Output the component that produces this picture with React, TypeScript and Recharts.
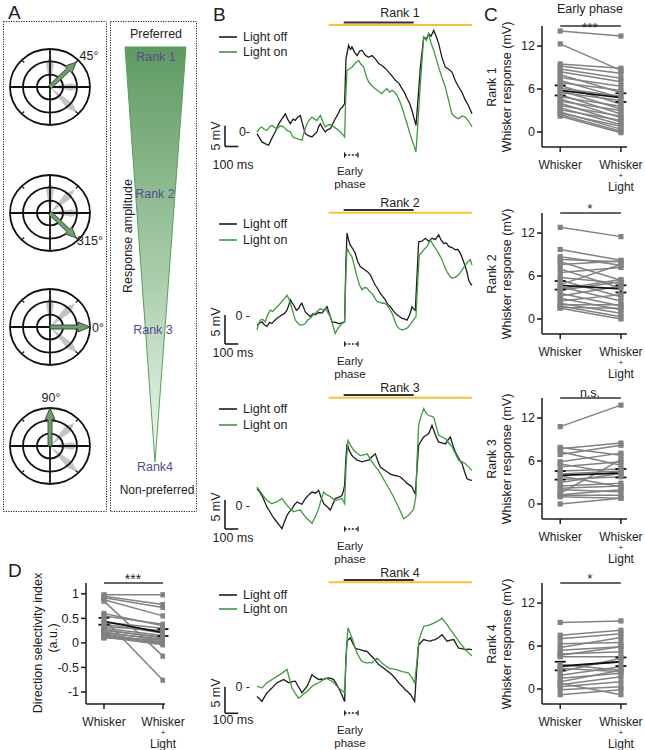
import React from 'react';
import { LineChart, Line, XAxis, YAxis, ReferenceLine, ErrorBar } from 'recharts';

const FONT = "'Liberation Sans', Arial, Helvetica, sans-serif";
const INK = '#1e1e1e';
const GREY = '#828282';
const OFF_COLOR = '#1c1c1c';
const ON_COLOR = '#3f9a3f';
const LIGHT_COLOR = '#f2c240';

// ---- panel B: example traces, [time ms, Vm mV]
const rank1Off: [number, number][] = [
  [0, -0.4], [20, -1.5], [37, -2.4], [60, -2.8], [87, -3.2], [110, -1.6], [137, 0], [160, 1.8], [187, 3.2], [212, 4.4],
  [232, 3.0], [250, 2.0], [270, 3.1], [287, 2.8], [305, 3.6], [325, 4.0], [345, 1.5], [362, -0.4], [385, -0.9], [412, -1.2],
  [430, -0.6], [450, 0], [462, 1.3], [475, 2.0], [495, 0.8], [512, 0], [530, 0.6], [550, 0.8], [570, 2.1], [587, 3.2],
  [605, 4.2], [625, 5.6], [640, 6.0], [657, 6.9], [667, 17.7], [687, 21.0], [700, 20.0], [712, 20.6], [730, 19.4], [750, 18.5],
  [770, 19.6], [787, 19.8], [812, 18.6], [837, 18.1], [862, 18.5], [887, 17.7], [912, 16.6], [937, 16.1], [962, 15.4], [987, 14.5],
  [1012, 13.6], [1037, 12.5], [1062, 11.9], [1087, 10.5], [1105, 9.6], [1125, 8.1], [1145, 6.9], [1162, 5.2], [1180, 3.0], [1192, 1.6],
  [1210, 9.0], [1225, 15.7], [1250, 23.0], [1270, 22.5], [1287, 23.8], [1305, 23.2], [1325, 24.6], [1345, 23.0], [1362, 21.4], [1387, 18.0],
  [1412, 15.7], [1437, 15.2], [1462, 14.5], [1487, 12.4], [1512, 10.9], [1537, 9.6], [1562, 7.7], [1587, 6.3], [1612, 4.4],
];
const rank1On: [number, number][] = [
  [0, 0], [20, 0.9], [37, 1.2], [55, 0.6], [75, 0.4], [95, 1.3], [112, 1.6], [130, 1.1], [150, 0.8], [175, 1.5],
  [200, 1.2], [225, 0.4], [250, 0], [270, -1.2], [290, -1.5], [315, -1.8], [337, -2.0], [355, 0.2], [375, 2.0], [392, 2.9],
  [412, 3.6], [430, 3.1], [450, 2.8], [475, 4.0], [495, 2.4], [512, 1.2], [537, 1.8], [562, 1.6], [587, 1.0], [612, 0.4],
  [635, -0.3], [657, -1.2], [665, 8.0], [675, 14.9], [695, 15.3], [712, 15.7], [737, 16.7], [762, 17.3], [780, 16.4], [800, 15.7],
  [818, 13.6], [837, 12.1], [862, 11.2], [887, 10.5], [912, 9.8], [937, 9.3], [955, 10.0], [975, 10.5], [995, 9.6], [1012, 10.1],
  [1030, 9.7], [1050, 8.9], [1068, 7.6], [1087, 6.0], [1105, 4.1], [1125, 2.0], [1145, -0.2], [1162, -2.0], [1180, -3.6], [1192, -4.8],
  [1210, 4.0], [1225, 11.7], [1240, 18.5], [1250, 23.0], [1270, 22.2], [1287, 23.8], [1305, 21.5], [1325, 19.8], [1345, 17.6], [1362, 15.7],
  [1387, 13.2], [1412, 10.9], [1437, 7.6], [1462, 4.4], [1487, 3.6], [1512, 3.2], [1537, 3.9], [1562, 3.6], [1587, 2.6], [1612, 1.2],
];
const rank2Off: [number, number][] = [
  [0, -1.6], [20, -1.2], [37, -1.0], [55, -1.5], [75, -1.8], [95, -1.1], [112, -1.3], [130, -0.8], [150, -0.4], [170, -0.1],
  [187, 0.2], [205, 0.4], [225, 1.0], [240, 2.0], [250, 2.8], [262, 2.3], [275, 1.9], [295, 1.0], [312, 1.3], [325, 1.9],
  [337, 2.2], [350, 1.4], [362, 0.7], [380, 0.3], [400, -0.1], [420, 0.4], [437, 0.2], [462, 0.6], [487, 0.5], [505, 1.0],
  [525, 1.6], [545, 0.2], [562, -1.0], [590, -1.1], [612, -1.3], [635, -1.2], [657, -1.0], [666, 9.0], [675, 14.3], [688, 13.0],
  [700, 12.2], [718, 11.6], [737, 10.8], [755, 9.4], [775, 8.5], [795, 8.2], [812, 7.9], [830, 7.6], [850, 7.1], [868, 6.2],
  [887, 5.3], [905, 4.7], [925, 3.9], [945, 3.3], [962, 2.8], [980, 2.0], [1000, 1.6], [1025, 0.8], [1050, 0.2], [1068, -0.1],
  [1087, -0.4], [1105, -0.5], [1125, -0.7], [1145, 0.2], [1162, 1.6], [1175, 1.2], [1187, 1.0], [1200, 7.0], [1212, 12.8], [1237, 12.9],
  [1262, 13.4], [1287, 12.9], [1312, 13.4], [1337, 13.2], [1362, 14.0], [1380, 13.1], [1400, 12.5], [1420, 12.6], [1437, 12.0], [1462, 11.8],
  [1487, 11.4], [1505, 11.5], [1525, 10.8], [1545, 9.6], [1562, 8.5], [1575, 7.5], [1587, 6.2], [1600, 5.6], [1612, 5.3],
];
const rank2On: [number, number][] = [
  [0, -2.4], [12, -1.3], [25, -0.7], [42, -0.6], [62, -1.0], [80, 0.2], [100, 1.0], [118, 0.8], [137, 1.3], [160, 1.8],
  [187, 2.5], [205, 3.0], [225, 3.6], [238, 3.0], [250, 2.2], [268, 0.8], [287, -0.7], [305, -1.2], [325, -1.6], [345, -1.5],
  [362, -1.3], [380, -0.7], [400, -0.4], [418, 0.1], [437, 0.5], [455, 0.9], [475, 1.3], [495, 1.0], [512, 1.3], [530, 0.6],
  [550, -0.1], [568, -1.5], [587, -3.0], [605, -2.2], [625, -1.6], [640, -1.3], [657, -1.0], [666, 7.0], [675, 11.7], [692, 10.9],
  [712, 10.2], [730, 8.6], [750, 6.8], [768, 5.4], [787, 4.5], [805, 4.9], [825, 4.8], [842, 4.3], [862, 3.9], [880, 3.2],
  [900, 2.5], [918, 2.4], [937, 2.2], [955, 2.2], [975, 1.9], [992, 1.3], [1012, 0.5], [1030, -0.6], [1050, -1.8], [1068, -2.2],
  [1087, -2.4], [1105, -2.3], [1125, -2.1], [1145, -1.6], [1162, -1.0], [1178, -0.5], [1192, -0.1], [1205, 6.0], [1217, 10.5], [1233, 10.9],
  [1250, 11.4], [1275, 12.0], [1300, 13.1], [1318, 12.4], [1337, 11.7], [1362, 10.8], [1387, 9.7], [1405, 8.6], [1425, 7.6], [1445, 6.9],
  [1462, 6.5], [1487, 6.7], [1512, 7.1], [1537, 7.9], [1562, 8.8], [1580, 9.3], [1600, 9.7], [1612, 8.8],
];
const rank3Off: [number, number][] = [
  [0, 3.0], [18, 2.5], [37, 1.8], [55, 0.9], [75, -0.2], [95, -0.9], [112, -1.6], [130, -2.2], [150, -2.8], [170, -3.4],
  [187, -3.9], [205, -2.8], [225, -1.6], [242, -1.0], [262, -0.5], [280, 0.2], [300, 0.7], [318, 0.5], [337, 0.3], [355, 1.0],
  [375, 1.6], [392, 2.0], [412, 2.4], [438, 2.2], [462, 2.7], [480, 1.5], [500, 0.4], [525, -0.1], [550, -0.7], [570, 0.4],
  [587, 1.3], [612, 1.5], [637, 1.8], [648, 2.6], [657, 3.6], [666, 8.0], [675, 10.7], [693, 9.5], [712, 8.7], [730, 8.3],
  [750, 7.9], [768, 7.8], [787, 7.6], [812, 7.8], [837, 7.9], [862, 8.5], [887, 9.0], [905, 7.8], [925, 6.7], [950, 6.3],
  [975, 5.9], [1000, 5.5], [1025, 5.3], [1050, 5.2], [1075, 5.0], [1100, 4.5], [1125, 3.9], [1145, 3.6], [1162, 3.3], [1175, 2.6],
  [1187, 2.1], [1200, 6.5], [1212, 10.5], [1230, 11.2], [1250, 11.9], [1270, 12.2], [1287, 12.5], [1300, 13.2], [1312, 13.9], [1337, 12.3],
  [1362, 11.0], [1387, 10.9], [1412, 10.7], [1430, 11.3], [1450, 11.9], [1468, 10.5], [1487, 9.3], [1512, 8.2], [1537, 7.3], [1555, 6.0],
  [1575, 4.7], [1595, 4.5], [1612, 4.4],
];
const rank3On: [number, number][] = [
  [0, 3.3], [18, 2.7], [37, 2.1], [55, 1.5], [75, 1.0], [95, 0.6], [112, 0.4], [130, 0.6], [150, 0.7], [168, 1.0],
  [187, 1.3], [212, 0.5], [237, -0.2], [255, -0.6], [275, -1.0], [300, -0.8], [325, -0.7], [350, -1.5], [375, -2.2], [395, -2.6],
  [412, -3.0], [438, -1.8], [462, -0.5], [480, 1.0], [500, 2.4], [518, 2.0], [537, 1.8], [562, 1.4], [587, 1.0], [612, 1.1],
  [637, 1.3], [657, 0.4], [668, 7.0], [682, 11.3], [703, 10.4], [725, 9.6], [750, 9.1], [775, 8.7], [800, 8.8], [825, 9.0],
  [845, 8.3], [862, 7.6], [887, 6.8], [912, 6.1], [937, 5.1], [962, 4.1], [987, 3.1], [1012, 2.1], [1037, 0.9], [1062, -0.2],
  [1080, -1.2], [1100, -2.2], [1118, -1.9], [1137, -1.6], [1155, -1.1], [1175, -0.5], [1192, 1.8], [1200, 8.0], [1212, 13.9], [1230, 15.5],
  [1250, 16.8], [1268, 16.0], [1287, 15.6], [1305, 15.5], [1325, 15.3], [1345, 13.6], [1362, 12.2], [1387, 11.9], [1412, 11.6], [1437, 10.9],
  [1462, 10.2], [1487, 9.0], [1512, 7.9], [1537, 7.6], [1562, 7.3], [1587, 6.7], [1612, 6.1],
];
const rank4Off: [number, number][] = [
  [0, -1.8], [18, -2.2], [37, -2.7], [55, -1.9], [75, -1.1], [95, -0.6], [112, -0.2], [130, 0.3], [150, 0.8], [175, 1.1],
  [200, 1.4], [218, 1.1], [237, 0.8], [262, 1.0], [287, 1.1], [312, 0.0], [337, -1.1], [355, -0.5], [375, 0.1], [395, 1.2],
  [412, 2.3], [438, 1.8], [462, 1.4], [480, 1.5], [500, 1.4], [518, 1.6], [537, 1.7], [555, 1.6], [575, 1.4], [595, 0.6],
  [612, -0.2], [635, -1.4], [657, -2.7], [666, 5.0], [675, 8.6], [687, 8.9], [700, 9.2], [718, 8.2], [737, 7.3], [755, 7.1],
  [775, 7.0], [800, 6.8], [825, 6.7], [850, 6.0], [875, 5.4], [893, 4.8], [912, 4.2], [937, 3.8], [962, 3.3], [987, 2.8],
  [1012, 2.3], [1037, 1.6], [1062, 0.8], [1087, 0.2], [1112, -0.5], [1130, -0.9], [1150, -1.4], [1165, -2.0], [1182, -2.7], [1198, 3.5],
  [1212, 7.9], [1230, 8.4], [1250, 8.9], [1275, 8.7], [1300, 8.6], [1318, 8.8], [1337, 8.9], [1362, 9.3], [1387, 9.8], [1405, 9.2],
  [1425, 8.6], [1450, 8.8], [1475, 8.9], [1495, 8.0], [1512, 7.3], [1537, 7.2], [1562, 7.0], [1587, 7.1], [1612, 7.0],
];
const rank4On: [number, number][] = [
  [0, 0.1], [18, 0.0], [37, -0.2], [55, 0.3], [75, 0.8], [95, 1.1], [112, 1.4], [130, 1.7], [150, 2.0], [188, 2.6],
  [225, 3.3], [243, 1.6], [262, -0.2], [287, -1.2], [312, -2.1], [337, -1.6], [362, -1.1], [387, -0.5], [412, 0.1], [437, 0.5],
  [462, 0.8], [487, 1.2], [512, 1.7], [537, 1.4], [562, 1.1], [587, 0.5], [612, -0.2], [635, -0.6], [657, -1.1], [670, 6.5],
  [682, 11.1], [697, 10.2], [712, 9.2], [730, 7.8], [750, 6.4], [768, 5.5], [787, 4.8], [805, 4.6], [825, 4.5], [845, 4.6],
  [862, 4.5], [880, 5.0], [900, 5.4], [918, 5.0], [937, 4.5], [962, 4.0], [987, 3.6], [1012, 3.4], [1037, 3.3], [1062, 3.1],
  [1087, 2.9], [1112, 2.8], [1137, 2.6], [1160, 1.8], [1182, 0.8], [1198, 4.5], [1212, 8.6], [1230, 10.0], [1250, 11.4], [1275, 11.5],
  [1300, 11.7], [1325, 12.0], [1350, 12.3], [1370, 12.6], [1387, 12.9], [1405, 12.3], [1425, 11.7], [1443, 11.0], [1462, 10.4], [1487, 9.5],
  [1512, 8.6], [1537, 7.8], [1562, 7.0], [1587, 6.4], [1612, 5.8],
];
// stimulus timing, ms
const lightOnWindow = [537, 1612];
const whiskerWindow = [650, 1175];
const earlyPhaseWindow = [657, 757];
const scaleBarMs = [-240, -140];
const scaleBarMv = 5;

// ---- panel C: early phase whisker response per cell (mV)
const rank1Whisker = [14.1, 12.3, 9.5, 9.2, 8.8, 8.4, 8.0, 7.6, 7.2, 6.9, 6.5, 6.1, 5.8, 5.5, 5.2, 4.9, 4.6, 4.3, 4.0, 3.7, 3.4, 3.1, 2.8, 2.6, 2.4, 2.2];
const rank1Light = [13.4, 8.6, 8.9, 8.2, 7.5, 7.0, 5.5, 6.4, 4.8, 5.8, 3.9, 5.0, 3.2, 4.4, 2.5, 3.6, 2.0, 3.0, 1.4, 2.2, 1.0, 1.6, 0.4, 0.8, 0.1, -0.1];
const rank1Mean = [5.8, 4.8];
const rank1Sem = [0.7, 0.6];
const rank2Whisker = [12.8, 9.7, 8.7, 8.3, 8.0, 7.6, 7.0, 6.5, 5.8, 5.4, 4.8, 4.5, 4.2, 4.0, 3.6, 3.2, 2.9, 2.5, 2.2, 2.0, 1.8, 1.6, 1.5];
const rank2Light = [11.5, 8.2, 7.5, 8.0, 5.4, 8.1, 4.3, 7.2, 5.0, 3.1, 7.6, 2.5, 5.5, 5.2, 1.8, 4.6, 1.3, 3.4, 0.8, 2.0, 0.3, 1.5, 0.0];
const rank2Mean = [4.7, 4.2];
const rank2Sem = [0.6, 0.5];
const rank3Whisker = [10.8, 7.9, 7.7, 7.3, 6.9, 5.9, 5.6, 5.2, 4.6, 4.2, 3.9, 3.4, 3.0, 2.5, 2.2, 2.0, 1.5, 1.3, 1.2, 1.0, 0.0];
const rank3Light = [13.8, 6.8, 8.5, 5.4, 8.2, 7.1, 4.2, 5.9, 4.9, 4.6, 2.4, 3.8, 4.3, 2.9, 2.5, 1.7, 6.2, 2.0, 1.2, 0.8, 0.8];
const rank3Mean = [4.0, 4.3];
const rank3Sem = [0.6, 0.6];
const rank4Whisker = [9.3, 7.5, 7.0, 6.3, 5.8, 5.4, 4.9, 4.7, 4.5, 3.4, 3.1, 2.9, 2.4, 1.9, 1.5, 1.0, 0.8, 0.6, 0.3, -0.1, -0.8];
const rank4Light = [9.5, 8.2, 7.7, 6.5, 7.2, 5.9, 5.2, 5.9, 4.5, 2.6, 3.8, 2.4, 4.3, 3.1, 2.2, 2.6, -0.8, 1.7, 1.0, 0.3, -0.1];
const rank4Mean = [3.2, 3.8];
const rank4Sem = [0.6, 0.6];
const responseTicks = [0, 6, 12];

// ---- panel D: direction selectivity index
const dsiWhisker = [0.98, 0.95, 0.92, 0.88, 0.85, 0.6, 0.55, 0.48, 0.42, 0.38, 0.33, 0.3, 0.27, 0.25, 0.22, 0.2, 0.18, 0.16, 0.14, 0.12, 0.1];
const dsiLight = [0.98, 0.78, 0.72, 0.55, -0.27, 0.35, 0.38, -0.76, 0.3, 0.2, 0.25, 0.15, 0.1, 0.12, 0.05, 0.08, 0.0, 0.02, -0.02, -0.04, 0.06];
const dsiMean = [0.44, 0.21];
const dsiSem = [0.07, 0.07];
const dsiTicks = [-1, -0.5, 0, 0.5, 1];

// ---- layout of B panels (pixels)
const B_LEFT = 205;
const B_W = 270;
const B_H = 185;
const T0_PX = 257;
const PX_PER_MS = 215 / 1612;
const T_MIN = (B_LEFT - T0_PX) / PX_PER_MS;
const T_MAX = (B_LEFT + B_W - T0_PX) / PX_PER_MS;

type BPanel = {
  title: string; off: [number, number][]; on: [number, number][];
  top: number; zeroPx: number; ppm: number; lightPx: number; stimPx: number; scalePx: number; bracketPx: number;
  titleY: number; legY: number[]; mvY: number; msY: number; earlyY: number; zeroLabel: string;
};

const bPanels: BPanel[] = [
  { title: 'Rank 1', off: rank1Off, on: rank1On, top: 0, zeroPx: 132, ppm: 4.13, lightPx: 25, stimPx: 22.5, scalePx: 146.5, bracketPx: 155, titleY: 13, legY: [37, 52], mvY: 136, msY: 165, earlyY: 173, zeroLabel: '0-' },
  { title: 'Rank 2', off: rank2Off, on: rank2On, top: 190, zeroPx: 316, ppm: 5.8, lightPx: 212.7, stimPx: 210, scalePx: 344, bracketPx: 344, titleY: 203, legY: [224, 240], mvY: 322, msY: 353, earlyY: 363, zeroLabel: '0 -' },
  { title: 'Rank 3', off: rank3Off, on: rank3On, top: 375, zeroPx: 506, ppm: 5.8, lightPx: 397.7, stimPx: 395, scalePx: 529, bracketPx: 529, titleY: 388, legY: [409, 425], mvY: 507, msY: 538, earlyY: 548, zeroLabel: '0 -' },
  { title: 'Rank 4', off: rank4Off, on: rank4On, top: 565, zeroPx: 687, ppm: 5.33, lightPx: 582.3, stimPx: 580, scalePx: 713.3, bracketPx: 713, titleY: 573, legY: [595, 609], mvY: 693, msY: 720, earlyY: 732, zeroLabel: '0 -' },
];

const TracePanel = ({ p }: { p: BPanel }) => {
  const yMax = (p.zeroPx - p.top) / p.ppm;
  const yMin = -(p.top + B_H - p.zeroPx) / p.ppm;
  const mv = (px: number) => (p.zeroPx - px) / p.ppm;
  const half = 2.6 / p.ppm;
  const scaleY = mv(p.scalePx);
  const brY = mv(p.bracketPx);
  return (
    <div style={{ position: 'absolute', left: B_LEFT, top: p.top }}>
      <LineChart width={B_W} height={B_H} margin={{ top: 0, right: 0, bottom: 0, left: 0 }}>
        <XAxis type="number" dataKey="t" domain={[T_MIN, T_MAX]} hide allowDataOverflow />
        <YAxis type="number" domain={[yMin, yMax]} hide allowDataOverflow />
        <ReferenceLine segment={[{ x: lightOnWindow[0], y: mv(p.lightPx) }, { x: lightOnWindow[1], y: mv(p.lightPx) }]} stroke={LIGHT_COLOR} strokeWidth={2} ifOverflow="visible" />
        <ReferenceLine segment={[{ x: whiskerWindow[0], y: mv(p.stimPx) }, { x: whiskerWindow[1], y: mv(p.stimPx) }]} stroke="#333" strokeWidth={2} ifOverflow="visible" />
        <ReferenceLine segment={[{ x: scaleBarMs[0], y: scaleY }, { x: scaleBarMs[0], y: scaleY + scaleBarMv }]} stroke={INK} strokeWidth={1.6} ifOverflow="visible" />
        <ReferenceLine segment={[{ x: scaleBarMs[0], y: scaleY }, { x: scaleBarMs[1], y: scaleY }]} stroke={INK} strokeWidth={1.6} ifOverflow="visible" />
        <ReferenceLine segment={[{ x: earlyPhaseWindow[0], y: brY }, { x: earlyPhaseWindow[1], y: brY }]} stroke={INK} strokeWidth={1.3} strokeDasharray="2 1.6" ifOverflow="visible" />
        <ReferenceLine segment={[{ x: earlyPhaseWindow[0], y: brY - half }, { x: earlyPhaseWindow[0], y: brY + half }]} stroke={INK} strokeWidth={1.3} ifOverflow="visible" />
        <ReferenceLine segment={[{ x: earlyPhaseWindow[1], y: brY - half }, { x: earlyPhaseWindow[1], y: brY + half }]} stroke={INK} strokeWidth={1.3} ifOverflow="visible" />
        <Line data={p.off.map(([t, v]) => ({ t, v }))} dataKey="v" stroke={OFF_COLOR} strokeWidth={1.3} dot={false} isAnimationActive={false} />
        <Line data={p.on.map(([t, v]) => ({ t, v }))} dataKey="v" stroke={ON_COLOR} strokeWidth={1.3} dot={false} isAnimationActive={false} />
      </LineChart>
    </div>
  );
};

// custom two-level tick for paired plots
const PairTick = (props: any) => {
  const { x, y, payload } = props;
  const lines = payload.value === 0 ? ['Whisker'] : ['Whisker', '+', 'Light'];
  const dy = [14.5, 24.4, 37.1];
  return (
    <g transform={`translate(${x},${y})`}>
      {lines.map((s, i) => (
        <text key={i} x={0} y={dy[i]} textAnchor="middle" fontSize={i === 1 ? 8 : 12} fill={INK} fontFamily={FONT}>{s}</text>
      ))}
    </g>
  );
};

const squareDot = (props: any) => {
  const { cx, cy, index, dataKey } = props;
  if (cx == null || cy == null) return <g key={`${dataKey}-${index}`} />;
  return <rect key={`${dataKey}-${index}`} x={cx - 2.6} y={cy - 2.6} width={5.2} height={5.2} fill={GREY} />;
};

type PairProps = {
  left: number; top: number; axisW: number; width: number; w: number[]; l: number[]; mean: number[]; sem: number[];
  yDomain: number[]; xDomain: number[]; ticks: number[]; plotW: number;
};

const PairPanel = ({ left, top, axisW, width, w, l, mean, sem, yDomain, xDomain, ticks, plotW }: PairProps) => {
  const rows = [0, 1].map((x) => {
    const r: any = { x, m: mean[x], e: sem[x] };
    w.forEach((v, i) => { r[`p${i}`] = x === 0 ? v : l[i]; });
    return r;
  });
  return (
    <div style={{ position: 'absolute', left, top: top - 10 }}>
      <LineChart width={width} height={192} data={rows} margin={{ top: 10, right: width - axisW - plotW, bottom: 0, left: 0 }}>
        <XAxis type="number" dataKey="x" domain={xDomain} ticks={[0, 1]} height={61} tick={<PairTick />} tickSize={5}
          axisLine={{ stroke: INK, strokeWidth: 1.5 }} tickLine={{ stroke: INK, strokeWidth: 1.5 }} allowDataOverflow />
        <YAxis type="number" domain={yDomain} ticks={ticks} width={axisW} tickSize={5} allowDataOverflow
          tick={{ fontSize: 12.5, fill: INK, fontFamily: FONT }} axisLine={{ stroke: INK, strokeWidth: 1.5 }} tickLine={{ stroke: INK, strokeWidth: 1.5 }} />
        <ReferenceLine segment={[{ x: 0, y: yDomain[1] }, { x: 1, y: yDomain[1] }]} stroke="#333" strokeWidth={1.5} ifOverflow="visible" />
        {w.map((_, i) => (
          <Line key={i} dataKey={`p${i}`} stroke={GREY} strokeWidth={1.5} dot={squareDot} activeDot={false} isAnimationActive={false} />
        ))}
        <Line dataKey="m" stroke="#111" strokeWidth={1.8} dot={false} activeDot={false} isAnimationActive={false}>
          <ErrorBar dataKey="e" width={5.5} stroke="#111" strokeWidth={1.8} direction="y" />
        </Line>
      </LineChart>
    </div>
  );
};

const cPanels = [
  { top: 26, w: rank1Whisker, l: rank1Light, mean: rank1Mean, sem: rank1Sem, rank: 'Rank 1', sig: '***' },
  { top: 213, w: rank2Whisker, l: rank2Light, mean: rank2Mean, sem: rank2Sem, rank: 'Rank 2', sig: '*' },
  { top: 398, w: rank3Whisker, l: rank3Light, mean: rank3Mean, sem: rank3Sem, rank: 'Rank 3', sig: 'n.s.' },
  { top: 583, w: rank4Whisker, l: rank4Light, mean: rank4Mean, sem: rank4Sem, rank: 'Rank 4', sig: '*' },
];

// ---- panel A schematic
const polarItems = [
  { dir: 45, cy: 87, label: '45°', lx: 89, ly: 56 },
  { dir: 315, cy: 213, label: '315°', lx: 90, ly: 241 },
  { dir: 0, cy: 327, label: '0°', lx: 98, ly: 328 },
  { dir: 90, cy: 446, label: '90°', lx: 51, ly: 398 },
];
const grayLen: Record<number, number> = { 90: 33, 45: 35, 0: 30, 315: 39 };

const Polar = ({ dir, cy, label, lx, ly }: { dir: number; cy: number; label: string; lx: number; ly: number }) => {
  const cx = 50, rx = 40, ry = 38;
  const pt = (a: number, len: number, off = 0) => {
    const r = (a * Math.PI) / 180;
    const ux = Math.cos(r), uy = -Math.sin(r) * (ry / rx);
    return [cx + ux * len + Math.sin(r) * off, cy + uy * len + Math.cos(r) * off];
  };
  const poly = (ps: number[][]) => ps.map((q) => q.join(',')).join(' ');
  const gray = [90, 45, 0, 315].filter((d) => d !== dir);
  const L = dir === 0 || dir === 90 ? 40 : 37;
  return (
    <g>
      {gray.map((d) => {
        const len = grayLen[d];
        return <polygon key={d} points={poly([pt(d, 0), pt(d, len * 0.72, 3.8), pt(d, len), pt(d, len * 0.72, -3.8)])} fill="#c4c4c4" />;
      })}
      {[40, 27, 13].map((r) => (
        <ellipse key={r} cx={cx} cy={cy} rx={r} ry={(r * ry) / rx} fill="none" stroke="#111" strokeWidth={1.8} />
      ))}
      <line x1={cx - rx} y1={cy} x2={cx + rx} y2={cy} stroke="#111" strokeWidth={1.8} />
      <line x1={cx} y1={cy - ry} x2={cx} y2={cy + ry} stroke="#111" strokeWidth={1.8} />
      {[45, 135, 225, 315].map((a) => {
        const p1 = pt(a, 40), p2 = pt(a, 36.5);
        return <line key={a} x1={p1[0]} y1={p1[1]} x2={p2[0]} y2={p2[1]} stroke="#111" strokeWidth={1.2} />;
      })}
      <polygon
        points={poly([pt(dir, 0, 2), pt(dir, L * 0.7, 2), pt(dir, L * 0.7, 5), pt(dir, L), pt(dir, L * 0.7, -5), pt(dir, L * 0.7, -2), pt(dir, 0, -2)])}
        fill="#6f9c6f" stroke="#2c4a2c" strokeWidth={0.9}
      />
      <text x={lx} y={ly} fontSize={12.5} textAnchor="middle" dominantBaseline="central" fill={INK} fontFamily={FONT}>{label}</text>
    </g>
  );
};

const Txt = ({ x, y, children, size = 12.5, anchor = 'middle', color = INK, rotate }: any) => (
  <text x={x} y={y} fontSize={size} textAnchor={anchor} dominantBaseline="central" fill={color} fontFamily={FONT}
    transform={rotate ? `rotate(${rotate} ${x} ${y})` : undefined}>{children}</text>
);

const RANK_PURPLE = '#5b4a92';

export default function App() {
  return (
    <div style={{ position: 'absolute', left: 0, top: 0, width: 645, height: 750, background: '#fff', fontFamily: FONT, overflow: 'hidden' }}>
      {bPanels.map((p) => <TracePanel key={p.title} p={p} />)}
      {cPanels.map((c) => (
        <PairPanel key={c.rank} left={515} top={c.top} axisW={27} width={130} plotW={85} w={c.w} l={c.l} mean={c.mean} sem={c.sem}
          yDomain={[-2.1, 14.8]} xDomain={[-0.3, 1.1]} ticks={responseTicks} />
      ))}
      <PairPanel left={0} top={583} axisW={86} width={200} plotW={79} w={dsiWhisker} l={dsiLight} mean={dsiMean} sem={dsiSem}
        yDomain={[-1.245, 1.22]} xDomain={[-0.305, 1.034]} ticks={dsiTicks} />

      <svg width={645} height={750} style={{ position: 'absolute', left: 0, top: 0, pointerEvents: 'none' }}>
        <defs>
          <linearGradient id="amp" x1="0" y1="0" x2="0" y2="1">
            <stop offset="0%" stopColor="#5f9a62" />
            <stop offset="55%" stopColor="#a9cdab" />
            <stop offset="100%" stopColor="#f2f8f2" />
          </linearGradient>
        </defs>
        {/* panel A */}
        <Txt x={8} y={12} size={19} anchor="start">A</Txt>
        <rect x={3.5} y={21.5} width={103} height={490} fill="none" stroke="#222" strokeWidth={1} strokeDasharray="1.2 1.3" />
        <rect x={110.5} y={21.5} width={86} height={490} fill="none" stroke="#222" strokeWidth={1} strokeDasharray="1.2 1.3" />
        {polarItems.map((p) => <Polar key={p.dir} {...p} />)}
        <polygon points="125,47 186,47 155,462" fill="url(#amp)" stroke="#54a058" strokeWidth={1} />
        <Txt x={156} y={34}>Preferred</Txt>
        <Txt x={156} y={57} color={RANK_PURPLE}>Rank 1</Txt>
        <Txt x={155} y={194} color={RANK_PURPLE}>Rank 2</Txt>
        <Txt x={153} y={330} color={RANK_PURPLE}>Rank 3</Txt>
        <Txt x={155} y={467} color={RANK_PURPLE}>Rank4</Txt>
        <Txt x={157} y={490} size={12}>Non-preferred</Txt>
        <Txt x={128} y={236} rotate={-90}>Response amplitude</Txt>

        {/* panel B */}
        <Txt x={213} y={14} size={19} anchor="start">B</Txt>
        {bPanels.map((p) => (
          <g key={p.title}>
            <Txt x={400} y={p.titleY}>{p.title}</Txt>
            <line x1={219} y1={p.legY[0]} x2={237} y2={p.legY[0]} stroke={OFF_COLOR} strokeWidth={1.6} />
            <line x1={219} y1={p.legY[1]} x2={237} y2={p.legY[1]} stroke={ON_COLOR} strokeWidth={1.6} />
            <Txt x={243} y={p.legY[0]} anchor="start">Light off</Txt>
            <Txt x={243} y={p.legY[1]} anchor="start">Light on</Txt>
            <Txt x={250} y={p.zeroPx} anchor="end">{p.zeroLabel}</Txt>
            <Txt x={216} y={p.mvY} rotate={-90}>5 mV</Txt>
            <Txt x={233} y={p.msY}>100 ms</Txt>
            <Txt x={350} y={p.earlyY - 2} size={11.5}>Early</Txt>
            <Txt x={350} y={p.earlyY + 11} size={11.5}>phase</Txt>
          </g>
        ))}

        {/* panel C */}
        <Txt x={484} y={14} size={19} anchor="start">C</Txt>
        <Txt x={590} y={9}>Early phase</Txt>
        {cPanels.map((c) => (
          <g key={c.rank}>
            <Txt x={492} y={c.top + 61} rotate={-90}>{c.rank}</Txt>
            <Txt x={507} y={c.top + 61} rotate={-90}>Whisker response (mV)</Txt>
            <Txt x={590} y={c.top - (c.sig === '***' ? -1 : 5)} size={c.sig === 'n.s.' ? 12.5 : 13.5}>{c.sig}</Txt>
          </g>
        ))}

        {/* panel D */}
        <Txt x={8} y={570} size={19} anchor="start">D</Txt>
        <Txt x={38} y={643} rotate={-90}>Direction selectivity index</Txt>
        <Txt x={53} y={638} rotate={-90}>(a.u.)</Txt>
        <Txt x={133} y={579} size={14}>***</Txt>
      </svg>
    </div>
  );
}
